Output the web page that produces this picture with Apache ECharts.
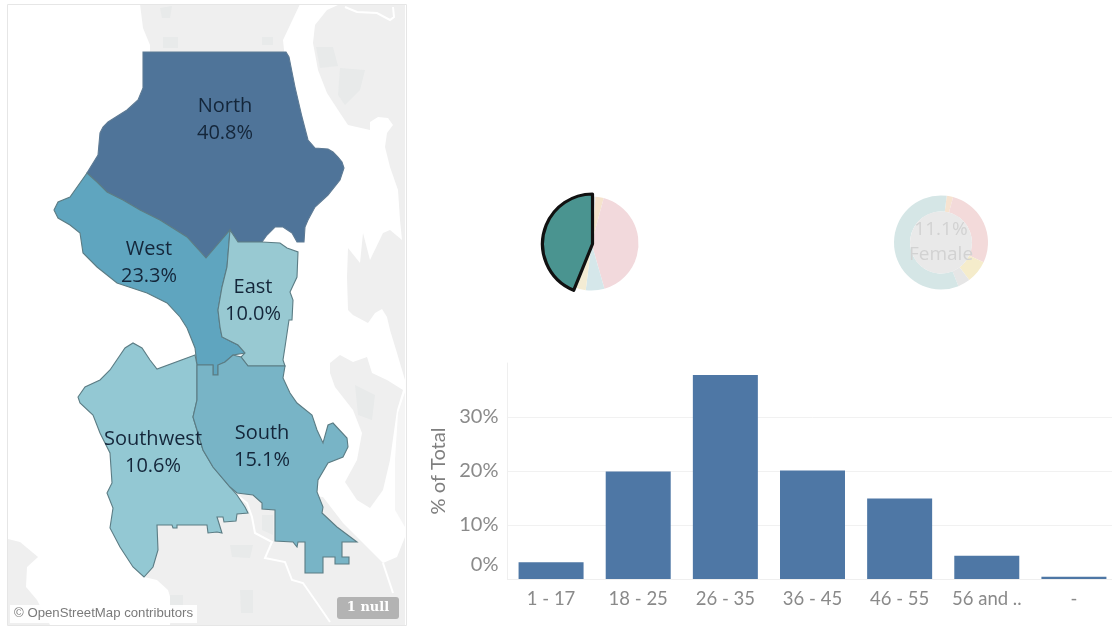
<!DOCTYPE html>
<html>
<head>
<meta charset="utf-8">
<style>html,body{margin:0;padding:0;background:#fff;overflow:hidden;width:1112px;height:626px}#c{width:1120px;height:626px}</style>
<script src="https://cdn.jsdelivr.net/npm/echarts@6/dist/echarts.min.js"></script>
</head>
<body>
<div id="c"></div>
<script>
// ---- values ----
const regionNames = ['North', 'West', 'East', 'Southwest', 'South'];
const regionShares = [40.8, 23.3, 10.0, 10.6, 15.1];
const regionColors = ['#4f7499', '#5fa5bf', '#98c9d2', '#93c8d3', '#78b4c6'];

const ageGroups = ['1 - 17', '18 - 25', '26 - 35', '36 - 45', '46 - 55', '56 and ..', '-'];
const agePercent = [3.1, 19.9, 37.8, 20.1, 14.9, 4.3, 0.4];
const yTicks = [0, 10, 20, 30];

const pieAValues = [1.4, 2.8, 41.4, 6.4, 4.2, 43.9];
const pieAColors = ['#e4e4e4', '#f5e3cc', '#f2d9dc', '#d5e7ea', '#f3ecd4', '#4a9490'];
const pieBValues = [2.2, 27.8, 7.8, 4.2, 58.0];
const pieBColors = ['#f6e3d0', '#f3dada', '#f5eccb', '#e6e6e6', '#d5e6e6'];
const pieBLabel = ['11.1%', 'Female'];

// ---- map outlines (map units) ----
const outlineNorth = [[143,52],[286,52],[289,57],[292,72],[295,87],[302,117],[308,140],[315,148],[328,149],[333,152],[338,157],[342,162],[344,168],[340,180],[328,195],[315,207],[308,220],[305,227],[304,242],[297,242],[292,233],[283,227],[275,227],[267,235],[262,242],[238,242],[230,230],[206,258],[187,237],[160,220],[140,210],[123,200],[107,192],[97,182],[87,173],[98,155],[100,133],[103,127],[108,122],[127,110],[138,100],[143,88]];
const outlineWest = [[87,173],[97,182],[107,192],[123,200],[140,210],[160,220],[187,237],[206,258],[230,230],[227,267],[222,287],[218,310],[220,327],[222,337],[232,342],[238,345],[245,353],[233,355],[225,362],[218,365],[218,375],[213,375],[213,365],[197,365],[195,348],[187,328],[180,317],[167,303],[147,293],[117,283],[97,267],[83,253],[80,233],[70,225],[58,218],[54,210],[58,202],[70,197]];
const outlineEast = [[230,230],[238,242],[262,242],[263,243],[280,243],[287,248],[298,252],[297,277],[290,292],[293,300],[292,320],[289,320],[285,347],[283,360],[285,366],[248,366],[241,357],[245,353],[238,345],[232,342],[222,337],[220,327],[218,310],[222,287],[227,267]];
const outlineSouth = [[197,365],[213,365],[213,375],[218,375],[218,365],[225,362],[233,355],[241,357],[248,366],[285,366],[283,378],[290,393],[297,403],[312,415],[317,430],[323,443],[328,425],[333,423],[347,438],[348,447],[343,457],[328,463],[318,480],[317,492],[323,507],[322,513],[337,527],[357,542],[342,542],[342,557],[349,557],[349,564],[335,564],[335,557],[323,557],[323,573],[305,573],[305,542],[298,542],[297,547],[293,542],[275,541],[275,510],[262,509],[262,503],[253,495],[237,493],[230,487],[213,467],[203,450],[197,430],[193,417],[197,400]];
const outlineSouthwest = [[195,355],[157,369],[150,360],[142,348],[133,343],[125,348],[110,370],[100,380],[85,387],[78,397],[80,403],[93,415],[100,433],[110,453],[112,483],[107,493],[113,508],[110,528],[120,547],[133,567],[144,577],[153,567],[158,550],[157,525],[172,525],[173,528],[177,528],[177,525],[207,525],[208,533],[217,532],[222,533],[217,517],[223,517],[224,522],[236,521],[237,514],[248,513],[245,507],[237,495],[230,487],[213,467],[203,450],[197,430],[193,417],[197,400],[197,365]];

const outlineLandNorth = [[140,4],[143,28],[150,45],[150,60],[285,60],[283,40],[300,4]];
const outlineLandEast = [[313,43],[318,70],[327,93],[340,113],[348,125],[370,130],[370,122],[378,117],[388,118],[393,125],[387,133],[385,147],[390,167],[398,190],[400,220],[402,240],[390,230],[383,233],[370,260],[363,233],[360,263],[348,248],[347,277],[348,310],[353,315],[368,323],[375,313],[382,309],[387,317],[390,330],[397,353],[405,380],[405,5],[338,5],[327,10],[315,25]];
const outlineLandIsland = [[330,363],[340,355],[353,362],[367,357],[372,373],[387,380],[403,390],[397,410],[390,460],[383,490],[370,508],[357,500],[345,482],[357,460],[362,433],[353,410],[335,387],[330,373]];
const outlineLandEdge = [[405,392],[398,413],[395,460],[395,510],[405,527]];
const outlineLandSouth = [[405,537],[397,557],[383,563],[370,550],[343,523],[323,497],[250,490],[150,520],[144,577],[157,580],[168,590],[172,603],[170,625],[405,625]];
const outlineLandWest = [[8,539],[20,542],[38,557],[27,567],[26,587],[37,600],[50,625],[8,625]];
const outlineParks = [
  [[163,37],[178,37],[178,48],[163,48]],
  [[262,37],[273,37],[273,45],[262,45]],
  [[160,8],[172,6],[170,18],[162,18]],
  [[316,47],[333,47],[338,66],[320,68]],
  [[340,68],[365,70],[360,90],[345,105],[338,95]],
  [[230,545],[253,545],[250,558],[232,557]],
  [[240,590],[253,590],[253,613],[241,613]],
  [[170,595],[183,595],[183,607],[170,607]],
  [[262,515],[273,515],[273,535],[262,530]],
  [[355,385],[375,395],[372,420],[358,415]]
];
const outlineRivers = [
  [[237,495],[247,503],[252,517],[255,533],[272,542],[265,558],[285,562],[292,580],[303,583],[317,603],[330,622]],
  [[345,7],[357,12],[377,13],[390,20],[394,17],[393,7]],
  [[383,563],[393,593]]
];
const regionCentres = [[225,119.5],[149,262.5],[253,300.5],[153,452.5],[262,446.5]];

// ---- build map ----
const feature = (name, ring, cp) => ({
  type: 'Feature',
  properties: cp ? { name, cp } : { name },
  geometry: { type: 'Polygon', coordinates: [ring.concat([ring[0]])] }
});
const riverRing = path => path.concat(path.slice(1, -1).reverse());
const regionOutlines = [outlineNorth, outlineWest, outlineEast, outlineSouthwest, outlineSouth];
const landOutlines = [outlineLandNorth, outlineLandEast, outlineLandIsland, outlineLandEdge, outlineLandSouth, outlineLandWest];
const features = [];
landOutlines.forEach((r, i) => features.push(feature('land' + i, r)));
outlineParks.forEach((r, i) => features.push(feature('park' + i, r)));
outlineRivers.forEach((r, i) => features.push(feature('river' + i, riverRing(r))));
regionOutlines.forEach((r, i) => features.push(feature(regionNames[i], r, regionCentres[i])));
echarts.registerMap('seattle', { type: 'FeatureCollection', features });

const mapData = [{ name: 'land3', itemStyle: { areaColor: '#f5f5f5', borderWidth: 0 } }];
outlineParks.forEach((r, i) => mapData.push({ name: 'park' + i, itemStyle: { areaColor: '#e8eaea', borderWidth: 0 } }));
outlineRivers.forEach((r, i) => mapData.push({ name: 'river' + i, itemStyle: { areaColor: '#ffffff', borderColor: '#ffffff', borderWidth: 2 } }));
regionNames.forEach((n, i) => mapData.push({
  name: n, value: regionShares[i],
  itemStyle: { areaColor: regionColors[i], borderColor: i === 0 ? '#5d7a94' : '#5b7c84', borderWidth: 1.1 },
  label: { show: true }
}));

const chart = echarts.init(document.getElementById('c'), null, { renderer: 'canvas' });
chart.setOption({
  animation: false,
  backgroundColor: '#ffffff',
  grid: { left: 507.5, top: 363, width: 610, height: 216, containLabel: false },
  xAxis: {
    type: 'category', data: ageGroups,
    axisLine: { lineStyle: { color: '#efefef' } },
    axisTick: { show: false },
    axisLabel: { color: '#8a8a8a', fontFamily: 'Lato', fontSize: 18.5, margin: 11, interval: 0 }
  },
  yAxis: {
    type: 'value', min: 0, max: 40, interval: 10,
    name: '% of Total', nameLocation: 'middle', nameGap: 59, nameRotate: 90,
    nameTextStyle: { color: '#7f7f7f', fontFamily: 'Lato', fontSize: 20 },
    axisLine: { show: true, lineStyle: { color: '#efefef' } },
    axisTick: { show: false },
    splitLine: { showMaxLine: false, lineStyle: { color: '#f1f1f1' } },
    axisLabel: {
      color: '#8a8a8a', fontFamily: 'Lato', fontSize: 20, lineHeight: 28, margin: 9,
      verticalAlignMinLabel: 'bottom', showMaxLabel: false,
      formatter: v => yTicks.includes(v) ? v + '%' : ''
    }
  },
  series: [
    {
      type: 'map', map: 'seattle', silent: true,
      projection: { project: p => p, unproject: p => p },
      boundingCoords: [[7, 4], [406, 625]],
      left: 7, top: 4, width: 399, height: 621,
      roam: false, selectedMode: false,
      itemStyle: { areaColor: '#efefef', borderWidth: 0, borderColor: 'transparent' },
      label: {
        show: false, color: '#14263a', fontFamily: 'Open Sans', fontSize: 20, lineHeight: 27,
        formatter: p => p.name + '\n' + p.value.toFixed(1) + '%'
      },
      emphasis: { disabled: true },
      data: mapData
    },
    {
      type: 'bar', data: agePercent, barWidth: 65,
      itemStyle: { color: '#4e77a5' }, silent: true
    },
    {
      type: 'pie', center: [591.5, 243.5], radius: [0, 47], startAngle: 90, clockwise: true,
      silent: true, label: { show: false }, labelLine: { show: false },
      data: pieAValues.map((v, i) => ({
        value: v,
        itemStyle: { color: i === 5 ? 'transparent' : pieAColors[i] }
      }))
    },
    {
      type: 'pie', center: [592.5, 244], radius: [0, 50], startAngle: 90, clockwise: true,
      silent: true, label: { show: false }, labelLine: { show: false }, z: 3,
      data: pieAValues.map((v, i) => ({
        value: v,
        itemStyle: i === 5
          ? { color: pieAColors[i], borderColor: '#111111', borderWidth: 3.2 }
          : { color: 'transparent', borderWidth: 0 }
      }))
    },
    {
      type: 'pie', center: [941, 242.5], radius: [31, 47], startAngle: 83, clockwise: true,
      silent: true, label: { show: false }, labelLine: { show: false },
      data: pieBValues.map((v, i) => ({ value: v, itemStyle: { color: pieBColors[i] } }))
    },
    {
      type: 'pie', center: [941, 242.5], radius: [0, 31], silent: true,
      labelLine: { show: false },
      label: {
        show: true, position: 'center', color: '#d2d2d2', fontFamily: 'Open Sans',
        fontSize: 19, lineHeight: 25, padding: [6, 0, 0, 0], formatter: pieBLabel.join('\n')
      },
      data: [{ value: 1, itemStyle: { color: '#e9e9e9' } }]
    }
  ],
  graphic: [
    { type: 'rect', z: 100, shape: { x: 7.5, y: 4.5, width: 399, height: 621 }, style: { fill: 'none', stroke: '#e6e6e6', lineWidth: 1 } },
    { type: 'rect', z: 100, shape: { x: 10, y: 605, width: 187, height: 18 }, style: { fill: 'rgba(255,255,255,0.9)' } },
    { type: 'text', z: 101, x: 14, y: 607, style: { text: '© OpenStreetMap contributors', fill: '#7a7a7a', font: '13.2px "Liberation Sans"' } },
    { type: 'rect', z: 100, shape: { x: 337, y: 597, width: 62, height: 22, r: 3 }, style: { fill: '#b3b3b3' } },
    { type: 'text', z: 101, x: 368, y: 608, style: { text: '1 null', fill: '#ffffff', font: 'bold 13px "DejaVu Serif"', align: 'center', verticalAlign: 'middle' } }
  ]
});
</script>
</body>
</html>
